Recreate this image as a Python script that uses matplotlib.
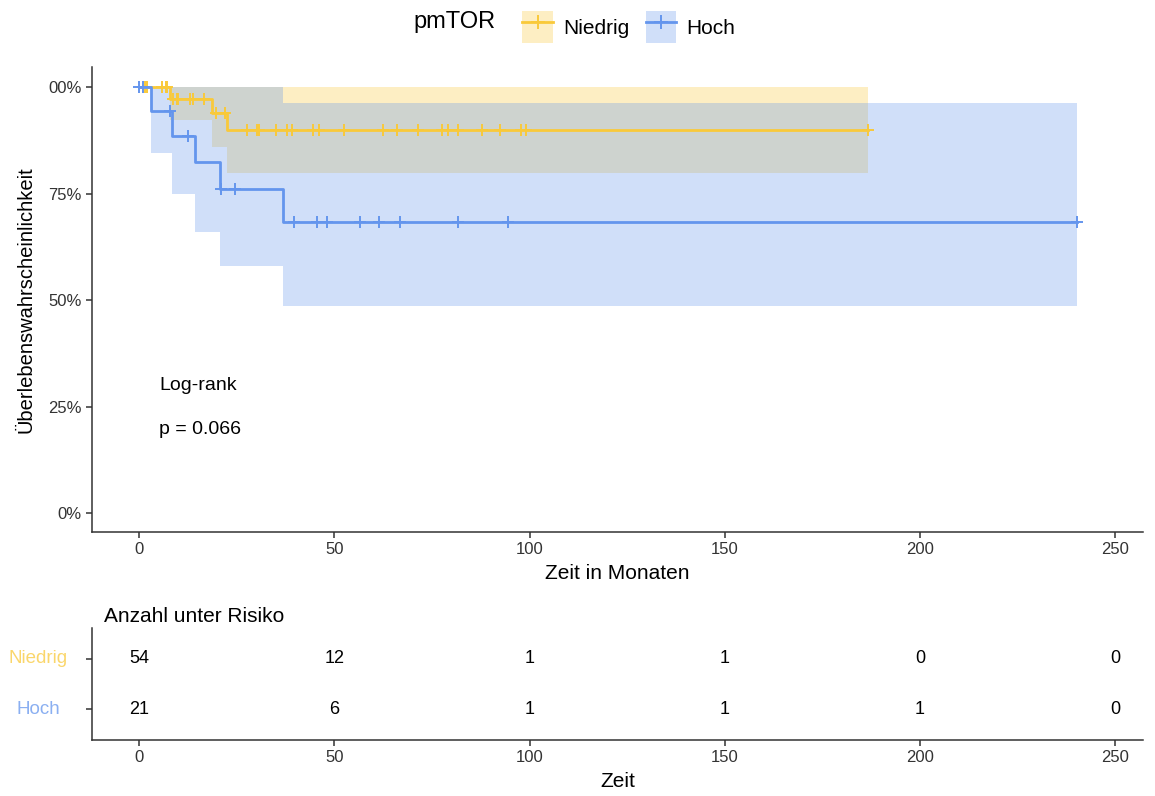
import matplotlib
matplotlib.use("Agg")
import matplotlib.pyplot as plt
import matplotlib.transforms as mtransforms
from matplotlib.lines import Line2D
from matplotlib.patches import Patch
import numpy as np

plt.rcParams['font.family'] = ['Liberation Sans', 'DejaVu Sans']

groups = ["Niedrig", "Hoch"]
colors = {"Niedrig": "#F9C93A", "Hoch": "#6495ED"}

# Kaplan-Meier steps (months, survival, CI)
niedrig_t = [0, 7.9, 18.6, 22.5, 186.6]
niedrig_s = [1.0, 0.973, 0.938, 0.899, 0.899]
niedrig_lo = [1.0, 0.923, 0.860, 0.797, 0.797]
niedrig_hi = [1.0, 1.0, 1.0, 1.0, 1.0]
niedrig_cens = [1.5, 2.1, 5.8, 6.9, 7.2, 8.8, 9.7, 10.1, 13.1, 13.9, 16.6,
                19.7, 22.0, 27.7, 30.1, 30.8, 35.1, 37.8, 39.1, 44.5, 46.2,
                52.5, 62.6, 66.1, 71.4, 77.5, 79.2, 81.8, 87.9, 92.4, 97.8,
                99.1, 186.6]

hoch_t = [0, 3.0, 8.4, 14.4, 20.7, 36.8, 240.2]
hoch_s = [1.0, 0.944, 0.885, 0.823, 0.761, 0.683, 0.683]
hoch_lo = [1.0, 0.846, 0.749, 0.659, 0.581, 0.486, 0.486]
hoch_hi = [1.0, 1.0, 1.0, 1.0, 1.0, 0.962, 0.962]
hoch_cens = [0.1, 0.9, 7.9, 12.6, 20.9, 24.6, 39.7, 45.5, 48.2, 56.6, 61.5,
             66.8, 81.7, 94.5, 240.2]

risk_times = [0, 50, 100, 150, 200, 250]
niedrig_risk = [54, 12, 1, 1, 0, 0]
hoch_risk = [21, 6, 1, 1, 1, 0]

y_ticks = [0, 0.25, 0.5, 0.75, 1.0]
y_ticklabels = ["0%", "25%", "50%", "75%", "00%"]

curves = {
    "Niedrig": (niedrig_t, niedrig_s, niedrig_lo, niedrig_hi, niedrig_cens),
    "Hoch": (hoch_t, hoch_s, hoch_lo, hoch_hi, hoch_cens),
}

W, H = 1155, 796
fig = plt.figure(figsize=(W / 100, H / 100), dpi=100)

spine_col = "#333333"
tick_col = "#333333"


def style_axes(ax):
    for s in ["top", "right"]:
        ax.spines[s].set_visible(False)
    for s in ["left", "bottom"]:
        ax.spines[s].set_color(spine_col)
        ax.spines[s].set_linewidth(1.1)
    ax.tick_params(colors=tick_col, length=4, width=1.1, labelsize=12)


# main survival panel
ax = fig.add_axes([92 / W, 1 - 532 / H, (1143 - 92) / W, (532 - 67) / H])
style_axes(ax)

for g in groups:
    t, s, lo, hi, cens = curves[g]
    col = colors[g]
    ax.fill_between(t, lo, hi, step="post", color=col, alpha=0.3, linewidth=0)
    ax.step(t, s, where="post", color=col, linewidth=2)
    idx = np.searchsorted(t, cens, side="right") - 1
    ax.plot(cens, np.array(s)[idx], linestyle="none", marker="+",
            markersize=9, markeredgewidth=1.4, color=col)

ax.set_xlim(-12.04, 257.1)
ax.set_ylim(-0.0446, 1.047)
ax.set_xticks(risk_times)
ax.set_yticks(y_ticks)
ax.set_yticklabels(y_ticklabels)
ax.set_xlabel("Zeit in Monaten", fontsize=15, labelpad=5)
ax.set_ylabel("Überlebenswahrscheinlichkeit", fontsize=14.5, labelpad=9)

ax.text(5.1, 0.30, "Log-rank", fontsize=14, va="center", ha="left")
ax.text(5.1, 0.195, "p = 0.066", fontsize=14, va="center", ha="left")

# legend on top
handles = [(Patch(facecolor=colors[g], alpha=0.3, linewidth=0),
            Line2D([], [], color=colors[g], linewidth=2, marker="+",
                   markersize=10, markeredgewidth=1.4)) for g in groups]
fig.legend(handles, groups, loc="center", bbox_to_anchor=(629 / W, 1 - 27 / H),
           ncol=2, frameon=False, fontsize=15, handlelength=1.45,
           handleheight=2.0, handletextpad=0.5, columnspacing=0.8)
fig.text(413 / W, 1 - 22 / H, "pmTOR", fontsize=17, ha="left", va="center")

# risk table
axr = fig.add_axes([92 / W, 1 - 740 / H, (1143 - 92) / W, (740 - 628) / H])
style_axes(axr)
axr.set_xlim(-12.04, 257.1)
axr.set_ylim(0.4, 2.6)
rows = {"Niedrig": (2, niedrig_risk), "Hoch": (1, hoch_risk)}
label_tr = mtransforms.blended_transform_factory(fig.transFigure, axr.transData)
for g in groups:
    yrow, vals = rows[g]
    for xt, v in zip(risk_times, vals):
        axr.text(xt, yrow, str(v), ha="center", va="center", fontsize=13)
    axr.text(38 / W, yrow, g, transform=label_tr, ha="center", va="center",
             fontsize=13.5, color=colors[g], alpha=0.75)
axr.set_xticks(risk_times)
axr.set_yticks([2, 1])
axr.set_yticklabels([])
axr.set_xlabel("Zeit", fontsize=15, labelpad=5)
fig.text(104 / W, 1 - 616 / H, "Anzahl unter Risiko", fontsize=15,
         ha="left", va="center")

fig.savefig("out.png", dpi=100)
